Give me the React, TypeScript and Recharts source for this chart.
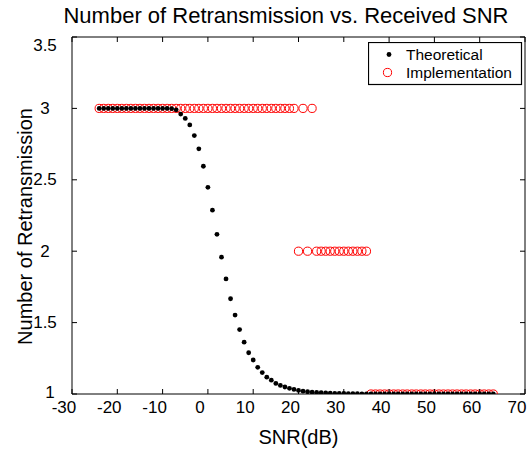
import React from "react";
import { ScatterChart, Scatter, XAxis, YAxis, Legend, ReferenceLine } from "recharts";

// SNR (dB) sample points
const snr = [
  -24, -23, -22, -21, -20, -19, -18, -17, -16, -15, -14, -13, -12, -11, -10, -9, -8, -7,
  -6, -5, -4, -3, -2, -1, 0, 1, 2, 3, 4, 5, 6, 7, 8, 9, 10, 11, 12, 13,
  14, 15, 16, 17, 18, 19, 20, 21, 22, 23, 24, 25, 26, 27, 28, 29, 30, 31, 32, 33,
  34, 35, 36, 37, 38, 39, 40, 41, 42, 43, 44, 45, 46, 47, 48, 49, 50, 51, 52, 53,
  54, 55, 56, 57, 58, 59, 60, 61, 62, 63,
];

const theoretical = [
  3, 3, 3, 3, 3, 3, 3, 3, 3, 3, 3, 3, 3, 3, 3, 3, 2.998, 2.99,
  2.96, 2.93, 2.884, 2.81, 2.717, 2.595, 2.447, 2.287, 2.118, 1.958,
  1.806, 1.667, 1.553, 1.451, 1.363, 1.289, 1.238, 1.187, 1.15, 1.118,
  1.097, 1.074, 1.06, 1.049, 1.04, 1.032, 1.025, 1.02, 1.016, 1.013, 1.011, 1.009,
  1.008, 1.006, 1.005, 1.004, 1.004, 1.003, 1.002, 1.002, 1.001, 1.001,
  1, 1, 1, 1, 1, 1, 1, 1, 1, 1, 1, 1, 1, 1, 1, 1, 1, 1, 1, 1, 1, 1, 1, 1, 1, 1, 1, 1,
];

const implementation = [
  3, 3, 3, 3, 3, 3, 3, 3, 3, 3, 3, 3, 3, 3, 3, 3, 3, 3, 3, 3, 3, 3,
  3, 3, 3, 3, 3, 3, 3, 3, 3, 3, 3, 3, 3, 3, 3, 3, 3, 3, 3, 3, 3, 3,
  2, 3, 2, 3,
  2, 2, 2, 2, 2, 2, 2, 2, 2, 2, 2, 2,
  1, 1, 1, 1, 1, 1, 1, 1, 1, 1, 1, 1, 1, 1, 1, 1, 1, 1, 1, 1, 1, 1, 1, 1, 1, 1, 1, 1,
];

const xTicks = [-30, -20, -10, 0, 10, 20, 30, 40, 50, 60, 70];
const yTicks = [1, 1.5, 2, 2.5, 3, 3.5];

const theoryData = snr.map((x, i) => ({ x, y: theoretical[i] }));
const implData = snr.map((x, i) => ({ x, y: implementation[i] }));

const W = 530;
const H = 451;
const M = { top: 37, right: 5, bottom: 0, left: 0 };
const Y_AXIS_W = 72;
const X_AXIS_H = 57;
const PLOT_TOP = M.top;
const PLOT_RIGHT = W - M.right;
const PLOT_LEFT = Y_AXIS_W;
const PLOT_BOTTOM = H - X_AXIS_H;

const font = "'Liberation Sans', Arial, Helvetica, sans-serif";

// bottom tick label + inward tick marks on bottom and top edges
const XTick = (p: any) => (
  <g>
    <line x1={p.x} x2={p.x} y1={PLOT_BOTTOM} y2={PLOT_BOTTOM - 5} stroke="#000" />
    <line x1={p.x} x2={p.x} y1={PLOT_TOP} y2={PLOT_TOP + 5} stroke="#000" />
    <text x={p.x - 8} y={PLOT_BOTTOM + 13} textAnchor="middle" dominantBaseline="central"
      fontSize={17} fontFamily={font} fill="#000">
      {p.payload.value}
    </text>
  </g>
);

// left tick label + inward tick marks on left and right edges
const YTick = (p: any) => {
  const v = p.payload.value;
  const lx = v === 1 ? PLOT_LEFT - 22 : PLOT_LEFT - 27;
  const ly = v === 3.5 ? p.y + 8 : v === 1 ? p.y - 2 : p.y;
  return (
    <g>
      <line x1={PLOT_LEFT} x2={PLOT_LEFT + 5} y1={p.y} y2={p.y} stroke="#000" />
      <line x1={PLOT_RIGHT - 5} x2={PLOT_RIGHT} y1={p.y} y2={p.y} stroke="#000" />
      <text x={lx} y={ly} textAnchor="middle" dominantBaseline="central"
        fontSize={17} fontFamily={font} fill="#000">
        {v}
      </text>
    </g>
  );
};

const Dot = (p: any) => <circle cx={p.cx} cy={p.cy} r={2.4} fill="#000" />;
const Ring = (p: any) => (
  <circle cx={p.cx} cy={p.cy} r={4.1} fill="none" stroke="#ff0000" strokeWidth={1} />
);

const renderLegend = () => (
  <svg width={155} height={44} style={{ display: "block" }}>
    <rect x={0.5} y={0.5} width={153} height={42} fill="#fff" stroke="#000" strokeWidth={1.2} />
    <circle cx={21} cy={12.5} r={2.4} fill="#000" />
    <text x={38} y={12.5} dominantBaseline="central" fontSize={15.5} fontFamily={font} fill="#000">
      Theoretical
    </text>
    <circle cx={19.5} cy={30.5} r={4.1} fill="none" stroke="#ff0000" />
    <text x={38} y={30.5} dominantBaseline="central" fontSize={15.5} fontFamily={font} fill="#000">
      Implementation
    </text>
  </svg>
);

export default function App() {
  return (
    <div style={{ position: "absolute", left: 0, top: 0, width: W, height: H, background: "#fff" }}>
      <div
        style={{
          position: "absolute",
          left: 286 - 260,
          width: 520,
          top: 4,
          lineHeight: "24px",
          textAlign: "center",
          fontFamily: font,
          fontSize: 22,
          color: "#000",
        }}
      >
        Number of Retransmission vs. Received SNR
      </div>
      <ScatterChart width={W} height={H} margin={M}>
        <XAxis
          type="number"
          dataKey="x"
          domain={[-30, 70]}
          ticks={xTicks}
          interval={0}
          height={X_AXIS_H}
          tickSize={0}
          tickMargin={0}
          tickLine={false}
          tick={XTick}
          stroke="#000"
          allowDataOverflow
          label={{
            content: (props: any) => {
              const vb = props.viewBox;
              return (
                <text x={vb.x + vb.width / 2} y={437} textAnchor="middle" dominantBaseline="central"
                  fontSize={20} fontFamily={font} fill="#000">SNR(dB)</text>
              );
            },
          }}
        />
        <YAxis
          type="number"
          dataKey="y"
          domain={[1, 3.5]}
          ticks={yTicks}
          interval={0}
          width={Y_AXIS_W}
          tickSize={0}
          tickMargin={0}
          tickLine={false}
          tick={YTick}
          stroke="#000"
          allowDataOverflow
          label={{
            content: (props: any) => {
              const vb = props.viewBox;
              const cx = 25;
              const cy = vb.y + vb.height / 2 + 11;
              return (
                <text x={cx} y={cy} transform={`rotate(-90 ${cx} ${cy})`} textAnchor="middle"
                  dominantBaseline="central" fontSize={20} fontFamily={font} fill="#000">
                  Number of Retransmission
                </text>
              );
            },
          }}
        />
        <ReferenceLine y={3.5} stroke="#000" strokeWidth={1} ifOverflow="visible" />
        <ReferenceLine x={70} stroke="#000" strokeWidth={1} ifOverflow="visible" />
        <Legend
          layout="vertical"
          align="center"
          verticalAlign="middle"
          content={renderLegend}
          wrapperStyle={{ position: "absolute", left: 368, top: 42, width: 155 }}
        />
        <Scatter name="Implementation" data={implData} shape={Ring} isAnimationActive={false} />
        <Scatter name="Theoretical" data={theoryData} shape={Dot} isAnimationActive={false} />
      </ScatterChart>
    </div>
  );
}
